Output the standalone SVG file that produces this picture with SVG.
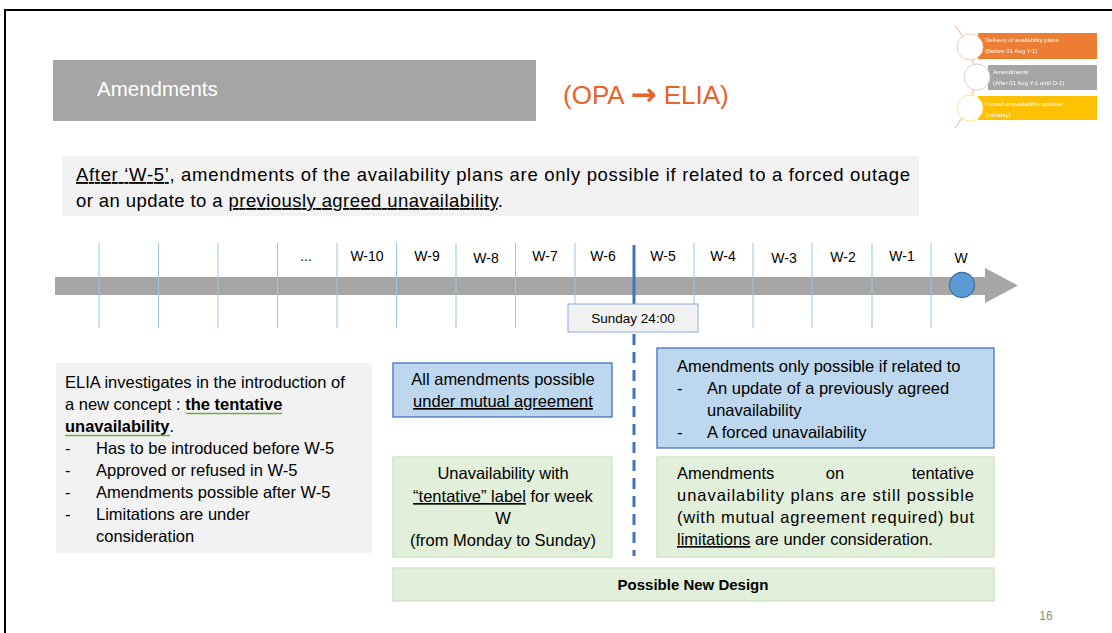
<svg xmlns="http://www.w3.org/2000/svg" width="1112" height="633" viewBox="0 0 1112 633">
  <style>
    text { font-family: "Liberation Sans", Arial, sans-serif; fill: #000; }
    .tick { stroke: #9dc3e6; stroke-width: 1; }
    .wk { font-size: 14px; text-anchor: middle; }
    .body { font-size: 16.5px; }
    .ctr { text-anchor: middle; }
    .blue { fill: #bdd7ee; stroke: #4472c4; stroke-width: 1.3; }
    .green { fill: #e2efda; stroke: #cfe3c3; stroke-width: 1.3; }
    .grey { fill: #f2f2f2; }
    .lg { font-size: 6px; fill: #fff; }
    .mark { stroke: #70ad47; stroke-width: 1.6; }
  </style>
  <defs>
    <filter id="soft" x="-5%" y="-5%" width="110%" height="110%">
      <feGaussianBlur stdDeviation="0.45"/>
    </filter>
  </defs>

  <rect x="0" y="0" width="1112" height="633" fill="#fff"/>
  <!-- slide frame -->
  <path d="M5,633 V10 H1112" fill="none" stroke="#000" stroke-width="2"/>

  <!-- title bar -->
  <g id="title">
    <rect x="53" y="60" width="483" height="61" fill="#a5a5a5"/>
    <text x="97" y="96" font-size="20.5" style="fill:#fff">Amendments</text>
  </g>
  <g id="direction">
    <text x="563" y="104" font-size="26" style="fill:#e8622c">(OPA <tspan font-family="DejaVu Sans" font-weight="bold" font-size="31" dy="1">→</tspan><tspan dy="-1"> ELIA)</tspan></text>
  </g>

  <!-- phase legend thumbnail -->
  <g id="legend" filter="url(#soft)">
    <path d="M955,25 Q995,77 955,128" fill="none" stroke="#f4b183" stroke-width="1"/>
    <rect x="978" y="33" width="119" height="26" fill="#ed7d31"/>
    <rect x="988" y="65" width="109" height="25" fill="#a5a5a5"/>
    <rect x="978" y="96" width="119" height="24" fill="#ffc000"/>
    <circle cx="970" cy="47" r="13" fill="#fff" stroke="#f8cbad" stroke-width="1"/>
    <circle cx="977" cy="77" r="13" fill="#fff" stroke="#d0d0d0" stroke-width="1"/>
    <circle cx="970" cy="108" r="13" fill="#fff" stroke="#ffe38a" stroke-width="1"/>
    <text class="lg" x="985" y="42">Delivery of availability plans</text>
    <text class="lg" x="985" y="53">(Before 01 Aug Y-1)</text>
    <text class="lg" x="993" y="74">Amendments</text>
    <text class="lg" x="993" y="85">(After 01 Aug Y-1 until D-1)</text>
    <text class="lg" x="985" y="106">Forced unavailability updates</text>
    <text class="lg" x="985" y="117">(Intraday)</text>
  </g>

  <!-- rule statement -->
  <g id="statement">
    <rect class="grey" x="62" y="156" width="857" height="60"/>
    <text x="76" y="181" font-size="18.5" textLength="834" lengthAdjust="spacing"><tspan text-decoration="underline">After ‘W-5’</tspan>, amendments of the availability plans are only possible if related to a forced outage</text>
    <text x="76" y="207" font-size="18.5" textLength="427" lengthAdjust="spacing">or an update to a <tspan text-decoration="underline">previously agreed unavailability</tspan>.</text>
  </g>

  <!-- timeline -->
  <g id="timeline">
    <path d="M55,277 H985 V268 L1018,285.5 L985,303 V295 H55 Z" fill="#a6a6a6"/>
    <g id="ticks">
      <line class="tick" x1="99" y1="243" x2="99" y2="328"/>
      <line class="tick" x1="158.5" y1="243" x2="158.5" y2="328"/>
      <line class="tick" x1="218" y1="243" x2="218" y2="328"/>
      <line class="tick" x1="277.5" y1="243" x2="277.5" y2="328"/>
      <line class="tick" x1="337" y1="243" x2="337" y2="328"/>
      <line class="tick" x1="396.5" y1="243" x2="396.5" y2="328"/>
      <line class="tick" x1="456" y1="243" x2="456" y2="328"/>
      <line class="tick" x1="515.5" y1="243" x2="515.5" y2="328"/>
      <line class="tick" x1="575" y1="243" x2="575" y2="306"/>
      <line class="tick" x1="694" y1="243" x2="694" y2="306"/>
      <line class="tick" x1="753" y1="243" x2="753" y2="328"/>
      <line class="tick" x1="812" y1="243" x2="812" y2="328"/>
      <line class="tick" x1="872" y1="243" x2="872" y2="328"/>
      <line class="tick" x1="931" y1="243" x2="931" y2="328"/>
    </g>
    <g id="week-labels">
      <text class="wk" x="306" y="261">...</text>
      <text class="wk" x="367" y="261">W-10</text>
      <text class="wk" x="427" y="261">W-9</text>
      <text class="wk" x="486" y="263">W-8</text>
      <text class="wk" x="545" y="261">W-7</text>
      <text class="wk" x="603" y="261">W-6</text>
      <text class="wk" x="663" y="261">W-5</text>
      <text class="wk" x="723" y="261">W-4</text>
      <text class="wk" x="784" y="263">W-3</text>
      <text class="wk" x="843" y="262">W-2</text>
      <text class="wk" x="902" y="261">W-1</text>
      <text class="wk" x="961" y="263">W</text>
    </g>
    <circle id="week-w" cx="962" cy="285" r="12.5" fill="#5b9bd5" stroke="#41719c" stroke-width="1.3"/>
  </g>

  <!-- W-5 boundary -->
  <g id="connectors">
    <line x1="634" y1="245" x2="634" y2="306" stroke="#4472c4" stroke-width="3"/>
    <line x1="634" y1="334" x2="634" y2="556" stroke="#4472c4" stroke-width="3" stroke-dasharray="11,7"/>
  </g>

  <g id="deadline">
    <rect x="568" y="304" width="130" height="28" fill="#f2f2f2" stroke="#8faadc" stroke-width="1"/>
    <text x="633" y="323" font-size="13.5" class="ctr">Sunday 24:00</text>
  </g>

  <!-- tentative concept note -->
  <g id="concept" class="body">
    <rect class="grey" x="56" y="363" width="316" height="190"/>
    <text x="65" y="388">ELIA investigates in the introduction of</text>
    <text x="65" y="410">a new concept : <tspan font-weight="bold">the tentative</tspan></text>
    <text x="65" y="432"><tspan font-weight="bold">unavailability</tspan>.</text>
    <line class="mark" x1="186" y1="413.5" x2="282" y2="413.5"/>
    <line class="mark" x1="65" y1="435.5" x2="170" y2="435.5"/>
    <text x="65" y="454">-</text><text x="96" y="454">Has to be introduced before W-5</text>
    <text x="65" y="476">-</text><text x="96" y="476">Approved or refused in W-5</text>
    <text x="65" y="498">-</text><text x="96" y="498">Amendments possible after W-5</text>
    <text x="65" y="520">-</text><text x="96" y="520">Limitations are under</text>
    <text x="96" y="542">consideration</text>
  </g>

  <!-- before W-5 -->
  <g id="before-rule" class="body">
    <rect class="blue" x="393" y="363" width="219" height="54"/>
    <text class="ctr" x="503" y="385">All amendments possible</text>
    <text class="ctr" x="503" y="407" text-decoration="underline">under mutual agreement</text>
  </g>
  <g id="before-tentative" class="body">
    <rect class="green" x="393" y="457" width="219" height="100"/>
    <text class="ctr" x="503" y="479">Unavailability with</text>
    <text class="ctr" x="503" y="502"><tspan text-decoration="underline">“tentative” label</tspan> for week</text>
    <text class="ctr" x="503" y="524">W</text>
    <text class="ctr" x="503" y="546">(from Monday to Sunday)</text>
  </g>

  <!-- after W-5 -->
  <g id="after-rule" class="body">
    <rect class="blue" x="657" y="348" width="337" height="100"/>
    <text x="677" y="372">Amendments only possible if related to</text>
    <text x="677" y="394">-</text><text x="707" y="394">An update of a previously agreed</text>
    <text x="707" y="416">unavailability</text>
    <text x="677" y="438">-</text><text x="707" y="438">A forced unavailability</text>
  </g>
  <g id="after-tentative" class="body">
    <rect class="green" x="657" y="457" width="337" height="100"/>
    <text x="677" y="479">Amendments</text>
    <text class="ctr" x="835" y="479">on</text>
    <text x="974" y="479" text-anchor="end">tentative</text>
    <text x="677" y="501" textLength="297" lengthAdjust="spacing">unavailability plans are still possible</text>
    <text x="677" y="523" textLength="297" lengthAdjust="spacing">(with mutual agreement required) but</text>
    <text x="677" y="545"><tspan text-decoration="underline">limitations</tspan> are under consideration.</text>
  </g>

  <g id="design-label">
    <rect class="green" x="393" y="568" width="601" height="33"/>
    <text class="ctr" x="693" y="590" font-size="15" font-weight="bold">Possible New Design</text>
  </g>

  <text id="page-number" x="1046" y="620" font-size="12" style="fill:#898989" text-anchor="middle">16</text>
</svg>
